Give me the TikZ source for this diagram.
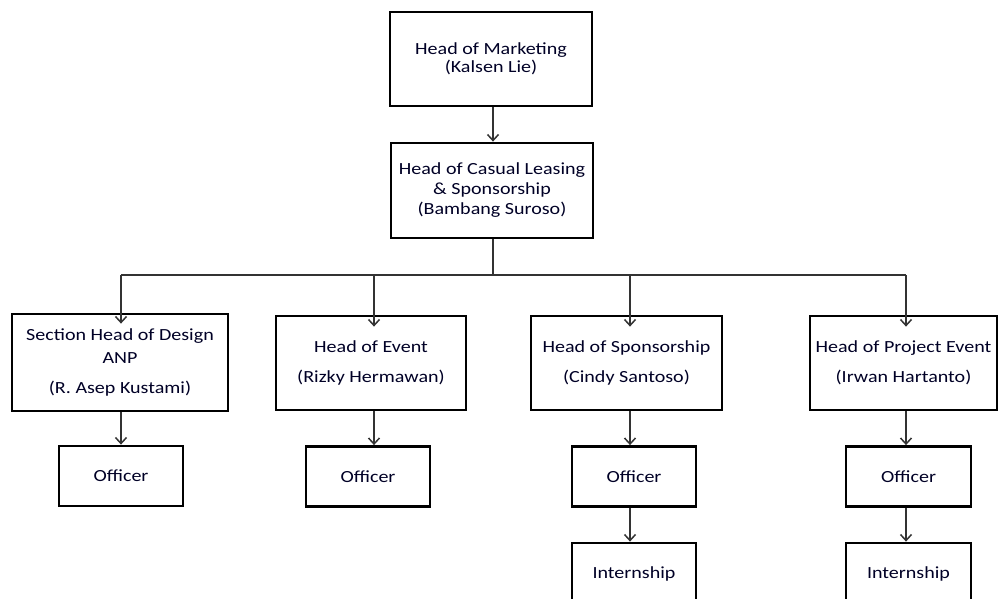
\documentclass[tikz,border=0pt]{standalone}
\usepackage{fontspec}
\setmainfont{Carlito}[FakeStretch=1.18]
\usetikzlibrary{arrows.meta}
\begin{document}
\begin{tikzpicture}[x=1pt,y=-1pt,
  box/.style={draw=black, line width=2.8pt, rectangle, inner sep=0pt, align=center,
    text=black!85!blue, font=\fontsize{17}{20}\selectfont},
  conn/.style={draw=black!80, line width=1.5pt},
  arr/.style={conn, -{Straight Barb[length=6pt,width=11pt,line width=1.5pt]}}]
\clip (0,0) rectangle (999,598);
\fill[white] (0,0) rectangle (999,598);
% top boxes
\node[box, minimum width=202pt, minimum height=94pt] (mkt) at (491,59) {Head of Marketing\\[-2pt](Kalsen Lie)};
\node[box, minimum width=202pt, minimum height=95pt] (csl) at (492,190.5) {Head of Casual Leasing\\\& Sponsorship\\(Bambang Suroso)};
% second level
\node[box, minimum width=216pt, minimum height=97pt] (des) at (120,362.5) {Section Head of Design\\[3pt]ANP\\[10pt](R. Asep Kustami)};
\node[box, minimum width=190pt, minimum height=94pt] (evt) at (371,363) {Head of Event\\[10pt](Rizky Hermawan)};
\node[box, minimum width=191pt, minimum height=94pt] (spo) at (626.5,363) {Head of Sponsorship\\[10pt](Cindy Santoso)};
\node[box, minimum width=187pt, minimum height=94pt] (prj) at (903.5,363) {Head of Project Event\\[10pt](Irwan Hartanto)};
% officers
\node[box, minimum width=124pt, minimum height=60pt] (off1) at (121,476) {Officer};
\node[box, minimum width=124pt, minimum height=60pt] (off2) at (368,476.5) {Officer};
\node[box, minimum width=124pt, minimum height=60pt] (off3) at (634,476.5) {Officer};
\node[box, minimum width=125pt, minimum height=60pt] (off4) at (908.5,476.5) {Officer};
% internships
\node[box, minimum width=124pt, minimum height=62pt] (int3) at (634,574) {Internship};
\node[box, minimum width=125pt, minimum height=62pt] (int4) at (908.5,574) {Internship};
% connector coordinates
\coordinate (trunk) at (493,275);
\coordinate (d1) at (121,275);
\coordinate (d2) at (374,275);
\coordinate (d3) at (630,275);
\coordinate (d4) at (906,275);
% connectors
\draw[arr] (mkt.south -| trunk) -- (csl.north -| trunk);
\draw[conn] (csl.south -| trunk) -- (trunk);
\draw[conn] (d1) -- (d4);
\draw[arr] (d1) -- ([yshift=-11pt]d1 |- des.north);
\draw[arr] (d2) -- ([yshift=-12pt]d2 |- evt.north);
\draw[arr] (d3) -- ([yshift=-12pt]d3 |- spo.north);
\draw[arr] (d4) -- ([yshift=-12pt]d4 |- prj.north);
\draw[arr] (d1 |- des.south) -- (d1 |- off1.north);
\draw[arr] (d2 |- evt.south) -- (d2 |- off2.north);
\draw[arr] (d3 |- spo.south) -- (d3 |- off3.north);
\draw[arr] (d4 |- prj.south) -- (d4 |- off4.north);
\draw[arr] (d3 |- off3.south) -- (d3 |- int3.north);
\draw[arr] (d4 |- off4.south) -- (d4 |- int4.north);
\end{tikzpicture}
\end{document}
